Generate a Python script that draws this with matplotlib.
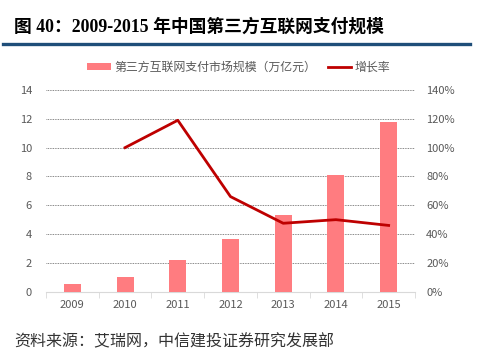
import numpy as np
import matplotlib
matplotlib.use('Agg')
import matplotlib.pyplot as plt
from matplotlib.ticker import FuncFormatter

plt.rcParams['font.family'] = ['Noto Sans CJK SC', 'DejaVu Sans']

# data
years = ['2009', '2010', '2011', '2012', '2013', '2014', '2015']
scale = [0.5, 1.0, 2.2, 3.65, 5.35, 8.07, 11.75]  # 万亿元
growth_years = years[1:]
growth = [100, 119, 66, 47.5, 50, 46]  # %

bar_color = '#FF7C80'
line_color = '#BE0000'
grey = '#595959'

fig = plt.figure(figsize=(4.78, 3.6), dpi=100)

# title and rule under it
fig.text(14 / 478, 1 - 27 / 360, '图 40：2009-2015 年中国第三方互联网支付规模',
         family=['Liberation Serif', 'Noto Sans CJK SC'], fontweight='bold',
         fontsize=12.8, va='center', ha='left', color='black')
fig.add_artist(plt.Line2D([3 / 478, 470 / 478], [1 - 43.5 / 360] * 2,
                          color='#1F4E79', lw=2.4, transform=fig.transFigure))

ax = fig.add_axes([46 / 478, 1 - 291.7 / 360, 369 / 478, 201.7 / 360])
x = np.arange(len(years))
ax.bar(x, scale, width=0.32, color=bar_color, zorder=3,
       label='第三方互联网支付市场规模（万亿元）')
ax.set_xlim(-0.5, len(years) - 0.5)
ax.set_ylim(0, 14)
ax.set_yticks(range(0, 15, 2))
ax.set_xticks(x)
ax.set_xticklabels(years)
ax.set_xticks(np.arange(-0.5, len(years), 1), minor=True)
ax.tick_params(axis='x', which='major', length=0, colors=grey, labelsize=8, pad=6)
ax.tick_params(axis='x', which='minor', length=4, color='#D9D9D9')
ax.tick_params(axis='y', length=0, colors=grey, labelsize=8, pad=10)
ax.grid(axis='y', color='#606060', ls=(0, (1, 1)), lw=0.6, zorder=0)
for s in ['top', 'right', 'left']:
    ax.spines[s].set_visible(False)
ax.spines['bottom'].set_color('#D9D9D9')

ax2 = ax.twinx()
gx = [years.index(y) for y in growth_years]
ax2.plot(gx, growth, color=line_color, lw=2, zorder=4, label='增长率')
ax2.set_ylim(0, 140)
ax2.set_yticks(range(0, 141, 20))
ax2.yaxis.set_major_formatter(FuncFormatter(lambda v, p: f'{v:.0f}%'))
ax2.tick_params(axis='y', length=0, colors=grey, labelsize=8, pad=8)
for s in ax2.spines.values():
    s.set_visible(False)

h1, l1 = ax.get_legend_handles_labels()
h2, l2 = ax2.get_legend_handles_labels()
fig.legend(h1 + h2, l1 + l2, loc='center', bbox_to_anchor=(0.5, 1 - 67 / 360),
           ncol=2, frameon=False, fontsize=8.6, labelcolor=grey,
           handlelength=2.0, handleheight=0.5, columnspacing=0.9, handletextpad=0.3)

fig.text(14 / 478, 1 - 342 / 360, '资料来源：艾瑞网，中信建投证券研究发展部',
         fontsize=11.5, color='#333333', va='center', ha='left', style='italic')

fig.savefig('out.png', dpi=100, facecolor='white')
